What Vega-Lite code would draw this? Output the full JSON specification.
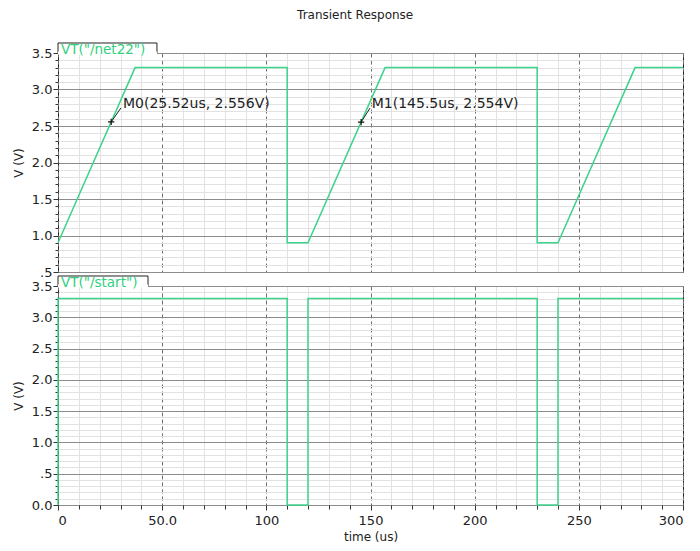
{
  "$schema": "https://vega.github.io/schema/vega-lite/v6.json",
  "title": {"text": "Transient Response", "fontSize": 12, "font": "DejaVu Sans", "fontWeight": "normal", "color": "#222", "anchor": "middle", "offset": 20, "dx": 6},
  "padding": {"left": 11, "top": 8, "right": 16, "bottom": 5},
  "spacing": 14,
  "bounds": "flush",
  "datasets": {
    "net22": [
      {"t": 0, "v": 0.9}, {"t": 37, "v": 3.3}, {"t": 110, "v": 3.3}, {"t": 110, "v": 0.9},
      {"t": 120, "v": 0.9}, {"t": 157, "v": 3.3}, {"t": 230, "v": 3.3}, {"t": 230, "v": 0.9},
      {"t": 240, "v": 0.9}, {"t": 277, "v": 3.3}, {"t": 300, "v": 3.3}
    ],
    "start": [
      {"t": 0, "v": 0}, {"t": 0, "v": 3.3}, {"t": 110, "v": 3.3}, {"t": 110, "v": 0},
      {"t": 120, "v": 0}, {"t": 120, "v": 3.3}, {"t": 230, "v": 3.3}, {"t": 230, "v": 0},
      {"t": 240, "v": 0}, {"t": 240, "v": 3.3}, {"t": 300, "v": 3.3}
    ],
    "tab1": [{"t0": 0, "t1": 47.5, "v0": 3.5, "v1": 3.637, "label": "VT(\"/net22\")"}],
    "tab2": [{"t0": 0, "t1": 43.2, "v0": 3.5, "v1": 3.66, "label": "VT(\"/start\")"}],
    "markers": [
      {"name": "M0(25.52us, 2.556V)", "t": 25.52, "v": 2.556, "lt": 31.2, "lv": 2.8, "et": 30.2, "ev": 2.747},
      {"name": "M1(145.5us, 2.554V)", "t": 145.5, "v": 2.554, "lt": 150.6, "lv": 2.8, "et": 149.8, "ev": 2.747}
    ]
  },
  "vconcat": [
    {
      "width": 625,
      "height": 219,
      "layer": [
        {
          "data": {"name": "net22"},
          "mark": {"type": "line", "color": "#3cd38a", "strokeWidth": 1.5},
          "encoding": {
            "x": {"field": "t", "type": "quantitative", "scale": {"domain": [0, 300], "nice": false, "zero": false},
              "axis": {"orient": "bottom", "values": [10,20,30,40,60,70,80,90,110,120,130,140,160,170,180,190,210,220,230,240,260,270,280,290], "grid": true, "gridColor": "#e2e2e2", "ticks": false, "labels": false, "domain": false, "title": null}},
            "y": {"field": "v", "type": "quantitative", "scale": {"domain": [0.5, 3.5], "nice": false, "zero": false},
              "axis": {"orient": "left", "values": [0.6,0.7,0.8,0.9,1.1,1.2,1.3,1.4,1.6,1.7,1.8,1.9,2.1,2.2,2.3,2.4,2.6,2.7,2.8,2.9,3.1,3.2,3.3,3.4], "grid": true, "gridColor": "#e2e2e2", "ticks": true, "tickSize": 3, "tickColor": "#333", "labels": false, "domain": false, "title": null}}
          }
        },
        {
          "data": {"name": "tab1"},
          "mark": {"type": "rect", "fill": "white", "stroke": "#222", "strokeWidth": 1},
          "encoding": {
            "x": {"field": "t0", "type": "quantitative",
              "axis": {"orient": "bottom", "values": [0,50,100,150,200,250,300], "grid": true, "gridColor": "#6e6e6e", "gridDash": [4,3], "ticks": false, "labels": false, "domain": false, "title": null}},
            "x2": {"field": "t1"},
            "y": {"field": "v0", "type": "quantitative",
              "axis": {"orient": "left", "values": [0.5,1,1.5,2,2.5,3,3.5], "grid": true, "gridColor": "#8c8c8c", "tickSize": 5, "tickColor": "#333", "domain": false, "labelExpr": "datum.value == 0.5 ? '.5' : format(datum.value, '.1f')", "title": "V (V)", "titlePadding": 6}},
            "y2": {"field": "v1"}
          }
        },
        {
          "data": {"name": "tab1"},
          "mark": {"type": "rect", "fill": "white", "strokeWidth": 0, "height": 3},
          "encoding": {
            "x": {"field": "t0", "type": "quantitative", "axis": null},
            "x2": {"field": "t1"},
            "y": {"field": "v0", "type": "quantitative", "axis": null}
          }
        },
        {
          "data": {"name": "tab1"},
          "mark": {"type": "text", "color": "#2fd07e", "fontSize": 13.5, "align": "left", "baseline": "alphabetic", "dx": 3, "dy": 1},
          "encoding": {
            "x": {"field": "t0", "type": "quantitative", "axis": null},
            "y": {"field": "v0", "type": "quantitative", "axis": null},
            "text": {"field": "label"}
          }
        },
        {
          "data": {"name": "markers"},
          "mark": {"type": "rule", "color": "#222", "strokeWidth": 1},
          "encoding": {
            "x": {"field": "t", "type": "quantitative", "axis": null},
            "y": {"field": "v", "type": "quantitative", "axis": null},
            "x2": {"field": "et"},
            "y2": {"field": "ev"}
          }
        },
        {
          "data": {"name": "markers"},
          "mark": {"type": "point", "shape": "M-1,0L1,0M0,-1L0,1", "size": 40, "stroke": "#111", "strokeWidth": 1.2, "filled": false, "opacity": 1},
          "encoding": {
            "x": {"field": "t", "type": "quantitative", "axis": null},
            "y": {"field": "v", "type": "quantitative", "axis": null}
          }
        },
        {
          "data": {"name": "markers"},
          "mark": {"type": "text", "color": "#222", "fontSize": 14, "align": "left", "baseline": "middle"},
          "encoding": {
            "x": {"field": "lt", "type": "quantitative", "axis": null},
            "y": {"field": "lv", "type": "quantitative", "axis": null},
            "text": {"field": "name"}
          }
        }
      ],
      "resolve": {"axis": {"x": "independent", "y": "independent"}}
    },
    {
      "width": 625,
      "height": 219,
      "layer": [
        {
          "data": {"name": "start"},
          "mark": {"type": "line", "color": "#3cd38a", "strokeWidth": 1.5},
          "encoding": {
            "x": {"field": "t", "type": "quantitative", "scale": {"domain": [0, 300], "nice": false, "zero": false},
              "axis": {"orient": "bottom", "values": [10,20,30,40,60,70,80,90,110,120,130,140,160,170,180,190,210,220,230,240,260,270,280,290], "grid": true, "gridColor": "#e2e2e2", "ticks": true, "tickSize": 4, "tickColor": "#333", "labels": false, "domain": false, "title": null}},
            "y": {"field": "v", "type": "quantitative", "scale": {"domain": [0, 3.5], "nice": false, "zero": false},
              "axis": {"orient": "left", "values": [0.1,0.2,0.3,0.4,0.6,0.7,0.8,0.9,1.1,1.2,1.3,1.4,1.6,1.7,1.8,1.9,2.1,2.2,2.3,2.4,2.6,2.7,2.8,2.9,3.1,3.2,3.3,3.4], "grid": true, "gridColor": "#e2e2e2", "ticks": true, "tickSize": 3, "tickColor": "#333", "labels": false, "domain": false, "title": null}}
          }
        },
        {
          "data": {"name": "tab2"},
          "mark": {"type": "rect", "fill": "white", "stroke": "#222", "strokeWidth": 1},
          "encoding": {
            "x": {"field": "t0", "type": "quantitative",
              "axis": {"orient": "bottom", "values": [0,50,100,150,200,250,300], "grid": true, "gridColor": "#6e6e6e", "gridDash": [4,3], "ticks": true, "tickSize": 5, "tickColor": "#333", "domain": false, "labelPadding": 4, "labelExpr": "datum.value == 50 ? '50.0' : format(datum.value, 'd')", "title": "time (us)", "titlePadding": 4}},
            "x2": {"field": "t1"},
            "y": {"field": "v0", "type": "quantitative",
              "axis": {"orient": "left", "values": [0,0.5,1,1.5,2,2.5,3,3.5], "grid": true, "gridColor": "#8c8c8c", "tickSize": 5, "tickColor": "#333", "domain": false, "labelExpr": "datum.value == 0.5 ? '.5' : format(datum.value, '.1f')", "title": "V (V)", "titlePadding": 6}},
            "y2": {"field": "v1"}
          }
        },
        {
          "data": {"name": "tab2"},
          "mark": {"type": "rect", "fill": "white", "strokeWidth": 0, "height": 3},
          "encoding": {
            "x": {"field": "t0", "type": "quantitative", "axis": null},
            "x2": {"field": "t1"},
            "y": {"field": "v0", "type": "quantitative", "axis": null}
          }
        },
        {
          "data": {"name": "tab2"},
          "mark": {"type": "text", "color": "#2fd07e", "fontSize": 13.5, "align": "left", "baseline": "alphabetic", "dx": 3, "dy": 1},
          "encoding": {
            "x": {"field": "t0", "type": "quantitative", "axis": null},
            "y": {"field": "v0", "type": "quantitative", "axis": null},
            "text": {"field": "label"}
          }
        }
      ],
      "resolve": {"axis": {"x": "independent", "y": "independent"}}
    }
  ],
  "config": {
    "font": "DejaVu Sans",
    "view": {"stroke": "#222", "strokeWidth": 1},
    "axis": {"labelFont": "DejaVu Sans", "labelFontSize": 13, "labelColor": "#222", "titleFont": "DejaVu Sans", "titleFontSize": 12, "titleFontWeight": "normal", "titleColor": "#222", "gridWidth": 1, "labelPadding": 1}
  }
}
